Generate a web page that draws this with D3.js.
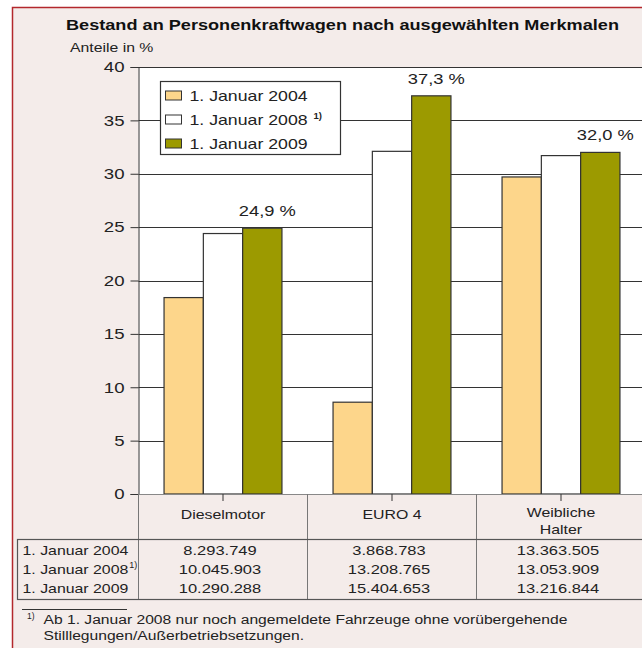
<!DOCTYPE html>
<html lang="de">
<head>
<meta charset="UTF-8">
<title>Bestand an Personenkraftwagen</title>
<script src="https://d3js.org/d3.v7.min.js"></script>
<style>
  body { margin: 0; background: #fff; }
  svg { display: block; font-family: "Liberation Sans", Arial, sans-serif; }
  .tick text { font-size: 15px; fill: #222; }
</style>
</head>
<body>
<svg id="chart" width="642" height="648"></svg>
<script>
// data
const categories = ["Dieselmotor", "EURO 4", "Weibliche Halter"];
const seriesNames = ["1. Januar 2004", "1. Januar 2008", "1. Januar 2009"];
const share2004 = [18.4, 8.6, 29.7];
const share2008 = [24.4, 32.1, 31.7];
const share2009 = [24.9, 37.3, 32.0];
const labels2009 = ["24,9 %", "37,3 %", "32,0 %"];
const stock2004 = ["8.293.749", "3.868.783", "13.363.505"];
const stock2008 = ["10.045.903", "13.208.765", "13.053.909"];
const stock2009 = ["10.290.288", "15.404.653", "13.216.844"];
const yTicks = [0, 5, 10, 15, 20, 25, 30, 35, 40];

const colors = ["#fdd68b", "#ffffff", "#9c9a00"];
const allShares = [share2004, share2008, share2009];
const allStock = [stock2004, stock2008, stock2009];

const K = 1.22; // the original typeface runs wider than Liberation Sans

// widen text horizontally to match the reference type
function stretch(sel, k) {
    sel.each(function() {
        const w = this.getComputedTextLength();
        d3.select(this).attr("textLength", w * k).attr("lengthAdjust", "spacingAndGlyphs");
    });
    return sel;
}

const svg = d3.select("#chart");

// frame
svg.append("rect")
    .attr("x", 12.5).attr("y", 7.5)
    .attr("width", 660).attr("height", 660)
    .attr("fill", "#f4ecea")
    .attr("stroke", "#b3282d").attr("stroke-width", 1.5);

svg.append("text")
    .attr("x", 66).attr("y", 30)
    .attr("font-weight", "bold").attr("font-size", 15.5)
    .attr("fill", "#111")
    .attr("textLength", 553).attr("lengthAdjust", "spacingAndGlyphs")
    .text("Bestand an Personenkraftwagen nach ausgewählten Merkmalen");

stretch(svg.append("text")
    .attr("x", 70).attr("y", 52)
    .attr("font-size", 13.5).attr("fill", "#222")
    .text("Anteile in %"), 1.17);

const plotLeft = 138.5, plotTop = 67, plotBottom = 494;

const x0 = d3.scaleBand().domain(categories).range([plotLeft, plotLeft + 3 * 169]);
const x1 = d3.scaleBand().domain(seriesNames).range([0, x0.bandwidth()]).paddingOuter(0.65);
const y = d3.scaleLinear().domain([0, 40]).range([plotBottom, plotTop]);

// plot area
svg.append("rect")
    .attr("x", plotLeft).attr("y", plotTop)
    .attr("width", 642 - plotLeft).attr("height", plotBottom - plotTop)
    .attr("fill", "#fff");

// gridlines
svg.append("g")
    .selectAll("line")
    .data(yTicks.filter(d => d > 0))
    .join("line")
    .attr("x1", plotLeft).attr("x2", 642)
    .attr("y1", d => Math.round(y(d)) + 0.5).attr("y2", d => Math.round(y(d)) + 0.5)
    .attr("stroke", "#333").attr("stroke-width", 1);

// y axis
const yAxis = svg.append("g")
    .attr("transform", `translate(${plotLeft},0)`)
    .call(d3.axisLeft(y).tickValues(yTicks).tickSize(8).tickPadding(6));
yAxis.select(".domain").attr("stroke", "#333");
yAxis.selectAll(".tick line").attr("stroke", "#333");
yAxis.selectAll(".tick text").attr("font-family", "Liberation Sans, Arial, sans-serif");
stretch(yAxis.selectAll(".tick text"), 1.24);

// bars
const groups = svg.append("g")
    .selectAll("g")
    .data(categories)
    .join("g")
    .attr("transform", d => `translate(${x0(d)},0)`);

groups.selectAll("rect")
    .data((d, i) => seriesNames.map((s, j) => ({ s, j, v: allShares[j][i] })))
    .join("rect")
    .attr("x", d => x1(d.s))
    .attr("y", d => y(d.v))
    .attr("width", x1.bandwidth())
    .attr("height", d => y(0) - y(d.v))
    .attr("fill", d => colors[d.j])
    .attr("stroke", "#333").attr("stroke-width", 1.2);

stretch(groups.append("text")
    .attr("x", x1(seriesNames[2]) + x1.bandwidth() / 2 + 5)
    .attr("y", (d, i) => y(share2009[i]) - 12)
    .attr("text-anchor", "middle")
    .attr("font-size", 15).attr("fill", "#222")
    .text((d, i) => labels2009[i]), K);

// x axis line + ticks
svg.append("line")
    .attr("x1", plotLeft).attr("x2", 642)
    .attr("y1", plotBottom + 0.5).attr("y2", plotBottom + 0.5)
    .attr("stroke", "#888");
svg.append("g")
    .selectAll("line")
    .data(categories)
    .join("line")
    .attr("x1", d => x0(d) + x0.bandwidth() / 2).attr("x2", d => x0(d) + x0.bandwidth() / 2)
    .attr("y1", plotBottom).attr("y2", plotBottom + 7)
    .attr("stroke", "#333");

// category labels (one text per line)
const catLines = [];
categories.forEach(c => {
    const words = c === "Weibliche Halter" ? ["Weibliche", "Halter"] : [c];
    words.forEach((w, k) => catLines.push({ c, w, yy: words.length > 1 ? 517 + k * 17 : 519 }));
});
stretch(svg.append("g")
    .selectAll("text")
    .data(catLines)
    .join("text")
    .attr("x", d => x0(d.c) + x0.bandwidth() / 2)
    .attr("y", d => d.yy)
    .attr("text-anchor", "middle")
    .attr("font-size", 13).attr("fill", "#222")
    .text(d => d.w), K);

// vertical separators
svg.append("g")
    .selectAll("line")
    .data(categories)
    .join("line")
    .attr("x1", d => x0(d)).attr("x2", d => x0(d))
    .attr("y1", plotBottom).attr("y2", 600)
    .attr("stroke", "#777");

// table
svg.append("rect")
    .attr("x", 17.5).attr("y", 539.5)
    .attr("width", 660).attr("height", 60)
    .attr("fill", "none").attr("stroke", "#555").attr("stroke-width", 1.2);

const rowY = [555, 574, 593];
seriesNames.forEach((s, j) => {
    const t = stretch(svg.append("text")
        .attr("x", 22.5).attr("y", rowY[j])
        .attr("font-size", 13).attr("fill", "#222")
        .text(s), K);
    if (j === 1) {
        svg.append("text")
            .attr("x", 22.5 + +t.attr("textLength") + 1).attr("y", rowY[j] - 6)
            .attr("font-size", 9).attr("fill", "#222")
            .text("1)");
    }
    stretch(svg.append("g")
        .selectAll("text")
        .data(categories)
        .join("text")
        .attr("x", d => x0(d) + x0.bandwidth() / 2 - 3)
        .attr("y", rowY[j])
        .attr("text-anchor", "middle")
        .attr("font-size", 13.5).attr("fill", "#222")
        .text((d, i) => allStock[j][i]), K);
});

// footnote
svg.append("line")
    .attr("x1", 22).attr("x2", 127)
    .attr("y1", 609.5).attr("y2", 609.5)
    .attr("stroke", "#333");
svg.append("text")
    .attr("x", 27).attr("y", 619)
    .attr("font-size", 8.5).attr("fill", "#222")
    .text("1)");
stretch(svg.append("text")
    .attr("x", 43.5).attr("y", 624)
    .attr("font-size", 12.5).attr("fill", "#222")
    .text("Ab 1. Januar 2008 nur noch angemeldete Fahrzeuge ohne vorübergehende"), 1.25);
stretch(svg.append("text")
    .attr("x", 43.5).attr("y", 640)
    .attr("font-size", 12.5).attr("fill", "#222")
    .text("Stilllegungen/Außerbetriebsetzungen."), 1.25);

// legend
const legend = svg.append("g").attr("transform", "translate(160.5,81.5)");
legend.append("rect")
    .attr("width", 180).attr("height", 73)
    .attr("fill", "#fff").attr("stroke", "#333").attr("stroke-width", 1.2);
const li = legend.selectAll("g")
    .data(seriesNames)
    .join("g")
    .attr("transform", (d, i) => `translate(5,${14 + i * 24})`);
li.append("rect")
    .attr("x", 0).attr("y", -4.5)
    .attr("width", 16).attr("height", 9)
    .attr("fill", (d, i) => colors[i])
    .attr("stroke", "#333");
const legText = stretch(li.append("text")
    .attr("x", 24).attr("y", 5.5)
    .attr("font-size", 15).attr("fill", "#222")
    .text(d => d), 1.18);
li.filter((d, i) => i === 1)
    .append("text")
    .attr("x", 24 + +legText.filter((d, i) => i === 1).attr("textLength") + 6)
    .attr("y", -1)
    .attr("font-size", 9.5).attr("font-weight", "bold").attr("fill", "#222")
    .text("1)");
</script>
</body>
</html>
